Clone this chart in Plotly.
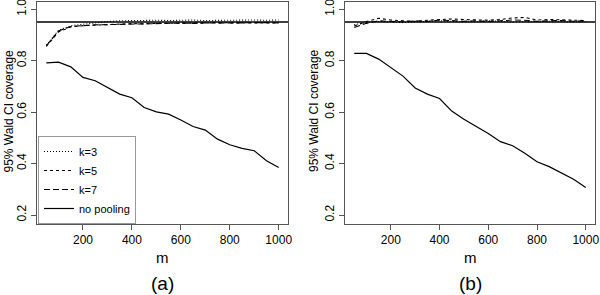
import plotly.graph_objects as go

m_values = [50, 100, 150, 200, 250, 300, 350, 400, 450, 500,
            550, 600, 650, 700, 750, 800, 850, 900, 950, 1000]

# panel (a)
a_k3 = [0.860, 0.918, 0.936, 0.942, 0.948, 0.952, 0.955, 0.956, 0.955, 0.957,
        0.956, 0.957, 0.958, 0.956, 0.957, 0.958, 0.957, 0.958, 0.957, 0.958]
a_k5 = [0.855, 0.912, 0.931, 0.936, 0.938, 0.941, 0.942, 0.944, 0.943, 0.945,
        0.946, 0.947, 0.946, 0.946, 0.948, 0.947, 0.948, 0.947, 0.947, 0.946]
a_k7 = [0.858, 0.915, 0.933, 0.937, 0.939, 0.940, 0.941, 0.943, 0.944, 0.943,
        0.945, 0.946, 0.945, 0.947, 0.946, 0.947, 0.947, 0.946, 0.948, 0.947]
a_nopool = [0.791, 0.794, 0.776, 0.735, 0.722, 0.696, 0.670, 0.656, 0.618, 0.601,
            0.592, 0.569, 0.544, 0.530, 0.495, 0.473, 0.459, 0.450, 0.411, 0.385]

# panel (b)
b_k3 = [0.940, 0.948, 0.952, 0.950, 0.948, 0.950, 0.952, 0.955, 0.953, 0.950,
        0.952, 0.955, 0.953, 0.950, 0.952, 0.951, 0.953, 0.952, 0.950, 0.952]
b_k5 = [0.935, 0.952, 0.965, 0.958, 0.955, 0.953, 0.957, 0.960, 0.962, 0.960,
        0.958, 0.957, 0.960, 0.966, 0.968, 0.958, 0.960, 0.958, 0.957, 0.956]
b_k7 = [0.929, 0.945, 0.955, 0.952, 0.950, 0.955, 0.952, 0.958, 0.955, 0.953,
        0.955, 0.952, 0.955, 0.958, 0.957, 0.953, 0.955, 0.956, 0.953, 0.955]
b_nopool = [0.828, 0.828, 0.806, 0.772, 0.740, 0.694, 0.670, 0.653, 0.604, 0.572,
            0.546, 0.517, 0.485, 0.469, 0.440, 0.407, 0.388, 0.364, 0.339, 0.307]

ref_level = 0.95
series_names = ["k=3", "k=5", "k=7", "no pooling"]
series_dash = ["1px,2px", "3px,3px", "6px,3px", "solid"]
x_ticks = [200, 400, 600, 800, 1000]
y_ticks = [0.2, 0.4, 0.6, 0.8, 1.0]
y_title = "95% Wald CI coverage"
x_title = "m"
panel_labels = ["(a)", "(b)"]

FONT = "Liberation Sans, Arial, Helvetica, sans-serif"
W, H = 600, 295
MT, MB = 2, 71
plot_h = H - MT - MB

fig = go.Figure()
panels = [
    ("x", "y", [a_k3, a_k5, a_k7, a_nopool], True),
    ("x2", "y2", [b_k3, b_k5, b_k7, b_nopool], False),
]
for xa, ya, series, show in panels:
    for name, dash, vals in zip(series_names, series_dash, series):
        fig.add_trace(go.Scatter(
            x=m_values, y=vals, mode="lines", name=name,
            line=dict(color="black", width=1.1 if dash != "solid" else 1.2, dash=dash),
            xaxis=xa, yaxis=ya, showlegend=show, hoverinfo="skip"))
    fig.add_shape(type="line", xref=xa + " domain", yref=ya, x0=0, x1=1,
                  y0=ref_level, y1=ref_level, line=dict(color="black", width=1.4))

axis_common = dict(showgrid=False, zeroline=False, showline=True, mirror=True,
                   linecolor="#555", linewidth=1, ticks="outside", ticklen=5,
                   tickcolor="#555", automargin=False, ticklabeloverflow="allow",
                   tickfont=dict(family=FONT, size=12, color="black"))

xdom_a = [37 / W, 288 / W]
xdom_b = [345 / W, 595 / W]
xr = [12, 1038]
yr = [0.165, 1.028]

fig.update_layout(
    template="none",
    width=W, height=H,
    margin=dict(l=0, r=0, t=MT, b=MB, pad=0),
    paper_bgcolor="white", plot_bgcolor="white",
    font=dict(family=FONT, color="black"),
    xaxis=dict(domain=xdom_a, range=xr, tickvals=x_ticks, anchor="y", **axis_common),
    yaxis=dict(domain=[0, 1], range=yr, tickvals=y_ticks, tickformat=".1f",
               tickangle=-90, anchor="x", **axis_common),
    xaxis2=dict(domain=xdom_b, range=xr, tickvals=x_ticks, anchor="y2", **axis_common),
    yaxis2=dict(domain=[0, 1], range=yr, tickvals=y_ticks, tickformat=".1f",
                tickangle=-90, anchor="x2", **axis_common),
    legend=dict(x=38 / W, y=0, xanchor="left", yanchor="bottom",
                bgcolor="white", bordercolor="#999", borderwidth=1,
                font=dict(family=FONT, size=11, color="black"),
                tracegroupgap=0, itemwidth=30),
    showlegend=True,
)

def py(px):
    return (MT + plot_h - px) / plot_h

annos = []
for dom, lab, ytx in [(xdom_a, panel_labels[0], 8.5), (xdom_b, panel_labels[1], 314)]:
    cx = (dom[0] + dom[1]) / 2
    annos.append(dict(text=x_title, x=cx, y=py(257), xref="paper", yref="paper",
                      showarrow=False, xanchor="center", yanchor="middle",
                      font=dict(family=FONT, size=15, color="black")))
    annos.append(dict(text=lab, x=cx, y=py(283), xref="paper", yref="paper",
                      showarrow=False, xanchor="center", yanchor="middle",
                      font=dict(family=FONT, size=19, color="black")))
    annos.append(dict(text=y_title, x=ytx / W, y=py(111), xref="paper", yref="paper",
                      showarrow=False, xanchor="center", yanchor="middle", textangle=-90,
                      font=dict(family=FONT, size=12, color="black")))
fig.update_layout(annotations=annos)

fig.write_html("out.html",
               config={"displayModeBar": False, "staticPlot": True},
               post_script="document.body.style.margin='0';document.body.style.padding='0';")
